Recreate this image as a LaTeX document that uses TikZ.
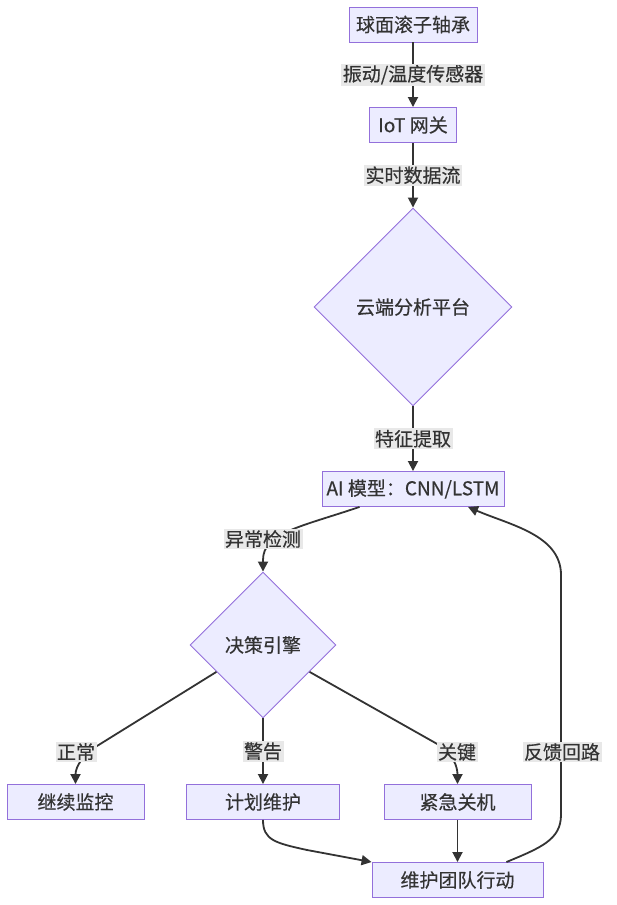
\documentclass[tikz,border=0pt]{standalone}
\usepackage{fontspec}
\setmainfont{Noto Sans CJK SC}[FakeBold=0.4]
\usetikzlibrary{arrows.meta,shapes.geometric}
\definecolor{ink}{HTML}{333333}
\definecolor{lilac}{HTML}{ECECFF}
\definecolor{violet}{HTML}{9370DB}
\definecolor{lblgray}{HTML}{E8E8E8}
\tikzset{
  box/.style={rectangle, draw=violet, fill=lilac, line width=0.9pt, minimum height=35pt,
              inner sep=0pt, text=ink, font=\fontsize{19}{23}\selectfont},
  decbox/.style={box, diamond, aspect=1},
  elbl/.style={fill=lblgray, text=ink, inner sep=1.5pt, font=\fontsize{19}{23}\selectfont},
  flow/.style={-{Triangle[length=10pt,width=10pt]}, draw=ink, line width=1.8pt},
}

\begin{document}
\begin{tikzpicture}[x=1pt,y=1pt]
\useasboundingbox (0,0) rectangle (617,905);

\node[box,    minimum width=128pt] (brg)   at (413,  880.5) {球面滚子轴承};
\node[box,    minimum width=87pt]  (iot)   at (413,  780)   {IoT 网关};
\node[decbox, minimum width=198pt, minimum height=198pt] (cloud) at (413, 598) {云端分析平台};
\node[box,    minimum width=182pt] (ai)    at (413,  416)   {AI 模型：CNN/LSTM};
\node[decbox, minimum width=146pt, minimum height=146pt] (dec)   at (263, 260) {决策引擎};
\node[box,    minimum width=137pt] (cont)  at (75.5, 103)   {继续监控};
\node[box,    minimum width=153pt] (plan)  at (263,  103)   {计划维护};
\node[box,    minimum width=147pt] (stop)  at (457.5,103)   {紧急关机};
\node[box,    minimum width=171pt] (team)  at (457.5,25)    {维护团队行动};

\draw[flow] (brg) -- node[elbl]{振动/温度传感器} (iot);
\draw[flow] (iot) -- node[elbl]{实时数据流} (cloud);
\draw[flow] (cloud) -- node[elbl]{特征提取} (ai);
\draw[flow] ([xshift=38pt]ai.south west) .. controls (300,378) and (263,372) .. (263,345) -- (dec.north);
\draw[flow] (dec.210) -- (97,159) to[out=212,in=90] (cont.north);
\draw[flow] (dec) -- node[elbl]{警告} (plan);
\draw[flow] (dec.330) -- (439,160) to[out=-32,in=90] (stop.north);
\draw[flow] (plan.south) .. controls (263,65) and (275,62) .. (307,55) -- (team.north west);
\draw[flow] (stop) -- (team);
\draw[flow] ([xshift=-37pt]team.north east) .. controls (540,57) and (561,65) .. (561,90)
  -- (561,330) .. controls (561,370) and (510,380) .. ([xshift=55pt]ai.south);

% labels on the bent edges
\node[elbl] (lanom) at (263,366) {异常检测};
\node[elbl] (lnorm) at (76,153)  {正常};
\node[elbl] (lcrit) at (457,153) {关键};
\node[elbl] (lfb)   at (562,153) {反馈回路};
\end{tikzpicture}
\end{document}
